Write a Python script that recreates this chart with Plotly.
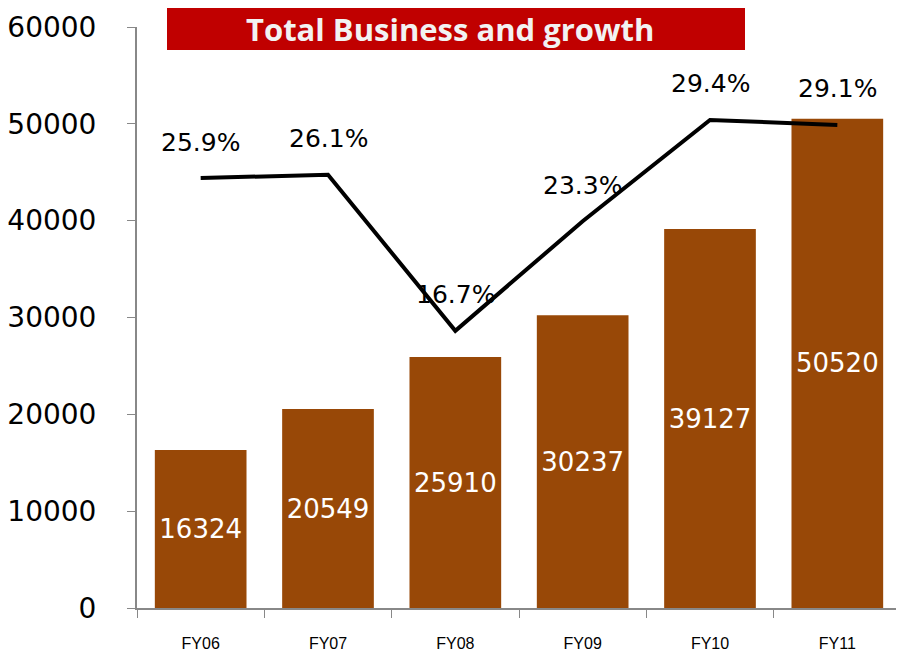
import plotly.graph_objects as go

# Dados do gráfico
anos = ["FY06", "FY07", "FY08", "FY09", "FY10", "FY11"]
negocio_total = [16324, 20549, 25910, 30237, 39127, 50520]
crescimento = [25.9, 26.1, 16.7, 23.3, 29.4, 29.1]
titulo = "Total Business and growth"

# A página tem margem de 8px no body, então compensamos nas margens
L, T, W_PLOT, H_PLOT = 129, 19, 764, 581

fig = go.Figure()

# Barras do negócio total
fig.add_trace(go.Bar(
    x=anos, y=negocio_total,
    marker=dict(color="#984807", line=dict(width=0)),
    text=[str(v) for v in negocio_total],
    textposition="inside", insidetextanchor="middle",
    textfont=dict(family="DejaVu Sans", size=26, color="white"),
    textangle=0,
    showlegend=False, hoverinfo="skip",
))

# Linha de crescimento no eixo secundário
fig.add_trace(go.Scatter(
    x=anos, y=crescimento, yaxis="y2", mode="lines",
    line=dict(color="black", width=4),
    showlegend=False, hoverinfo="skip",
))

# Rótulos de percentual acima da linha
for a, c in zip(anos, crescimento):
    fig.add_annotation(
        x=a, y=c, yref="y2", text=f"{c}%", showarrow=False,
        yshift=36, font=dict(family="DejaVu Sans", size=25, color="black"),
    )

# Conversão de pixels da página para coordenadas "paper"
def px_x(x):
    return (x - 8 - L) / W_PLOT

def px_y(y):
    return (T + H_PLOT - (y - 8)) / H_PLOT

# Caixa vermelha do título
fig.add_shape(type="rect", xref="paper", yref="paper",
              x0=px_x(167), x1=px_x(745), y0=px_y(50), y1=px_y(-20),
              fillcolor="#C00000", line=dict(width=0), layer="above")
fig.add_annotation(
    xref="paper", yref="paper", x=px_x(450), y=px_y(29),
    text=f"<b>{titulo}</b>", showarrow=False, yanchor="middle",
    font=dict(family="Open Sans", size=31, color="#F2F2F2"),
)

fig.update_layout(
    width=904, height=656,
    margin=dict(l=L, r=904 - L - W_PLOT, t=T, b=656 - T - H_PLOT),
    plot_bgcolor="white", paper_bgcolor="white",
    bargap=0.28,
    xaxis=dict(
        automargin=False,
        showline=True, linecolor="#888888", linewidth=2,
        ticks="outside", tickcolor="#888888", ticklen=8, tickson="boundaries",
        tickfont=dict(family="Liberation Sans Narrow, Liberation Sans", size=16, color="black"),
        ticklabelstandoff=20,
    ),
    yaxis=dict(
        automargin=False,
        range=[0, 60000], dtick=10000, tickformat="d", showgrid=False, zeroline=False,
        showline=True, linecolor="#888888", linewidth=2,
        ticks="outside", tickcolor="#888888", ticklen=8,
        tickfont=dict(family="DejaVu Sans", size=28, color="black"),
        ticklabelstandoff=25,
    ),
    yaxis2=dict(
        automargin=False,
        range=[0, 35], dtick=5, overlaying="y", side="right",
        showgrid=False, zeroline=False, showticklabels=False,
        showline=True, linecolor="#888888", linewidth=2,
        ticks="outside", tickcolor="#888888", ticklen=8,
    ),
)

fig.write_html("out.html")
